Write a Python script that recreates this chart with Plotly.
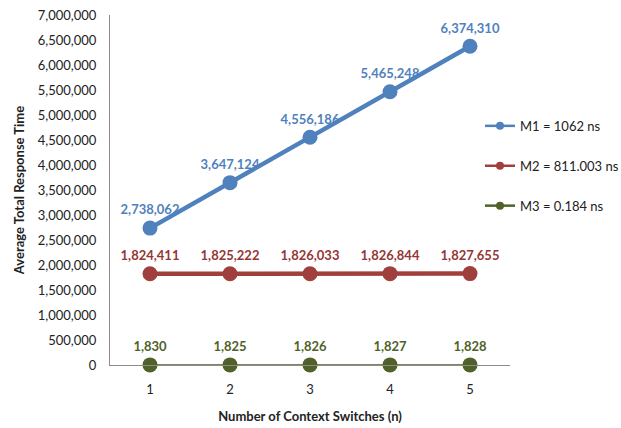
import plotly.graph_objects as go

# Data
switches = [1, 2, 3, 4, 5]
m1 = [2738062, 3647124, 4556186, 5465248, 6374310]
m2 = [1824411, 1825222, 1826033, 1826844, 1827655]
m3 = [1830, 1825, 1826, 1827, 1828]
names = ['M1 = 1062 ns', 'M2 = 811.003 ns', 'M3 = 0.184 ns']

font_family = 'Lato, Open Sans, sans-serif'

series = [
    (m1, names[0], '#4F81BD', '#4F81BD', 4.5),
    (m2, names[1], '#A0403D', '#943634', 4.5),
    (m3, names[2], '#4F6228', '#4F6228', 1.5),
]

fig = go.Figure()
for i, (vals, name, col, lblcol, lw) in enumerate(series):
    fig.add_trace(go.Scatter(
        x=switches, y=vals, name=name, showlegend=False,
        mode='lines+markers+text',
        line=dict(color=col, width=lw),
        marker=dict(color=col, size=15),
        text=['{:,}'.format(v) for v in vals],
        textposition='top center',
        textfont=dict(family=font_family, size=13, color=lblcol, weight='bold'),
        cliponaxis=False,
    ))
    # smaller legend entry, like the Excel legend
    fig.add_trace(go.Scatter(
        x=[None], y=[None], name=name, legendgroup='g%d' % i,
        mode='lines+markers',
        line=dict(color=col, width=2.5),
        marker=dict(color=col, size=8),
    ))

fig.update_layout(
    width=621, height=428,
    margin=dict(l=110, r=111, t=15, b=63, autoexpand=False),
    paper_bgcolor='white', plot_bgcolor='white',
    font=dict(family=font_family, size=13, color='#222222'),
    showlegend=True,
    legend=dict(x=0.925, y=0.726, xanchor='left', yanchor='top',
                tracegroupgap=20, font=dict(size=13, color='#222222'),
                bgcolor='rgba(0,0,0,0)'),
    xaxis=dict(
        range=[0.5, 5.5], tickvals=switches, ticktext=[str(s) for s in switches],
        showgrid=False, zeroline=False, showline=True, linecolor='#8C8C8C', linewidth=1,
        ticks='', ticklabelstandoff=12, automargin=False,
        title=dict(text='<b>Number of Context Switches (n)</b>', font=dict(size=13), standoff=16),
    ),
    yaxis=dict(
        range=[0, 7000000], dtick=500000, tickformat=',',
        showgrid=False, zeroline=False, showline=True, linecolor='#8C8C8C', linewidth=1,
        ticks='', ticklabelstandoff=10, automargin=False,
        title=dict(text='<b>Average Total Response Time</b>', font=dict(size=13), standoff=10),
    ),
)

# browser default body margin would shift the figure
fig.write_html('out.html', config={'displayModeBar': False},
               post_script="document.body.style.margin='0px';")
